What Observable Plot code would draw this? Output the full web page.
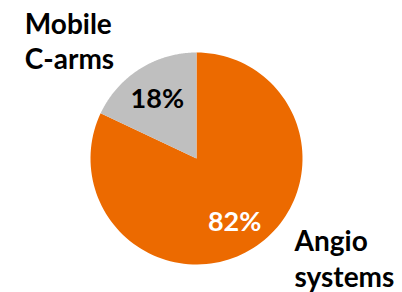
<!DOCTYPE html>
<html>
<head>
<meta charset="utf-8">
<script src="https://cdn.jsdelivr.net/npm/d3@7"></script>
<script src="https://cdn.jsdelivr.net/npm/@observablehq/plot@0.6"></script>
<style>
  html, body { margin: 0; padding: 0; background: #fff; }
  svg { display: block; }
</style>
</head>
<body>
<div id="chart"></div>
<script>
const categories = ["Angio systems", "Mobile C-arms"];
const values = [82, 18];
const valueLabels = ["82%", "18%"];
const categoryLabels = ["Angio\nsystems", "Mobile\nC-arms"];
const colors = ["#EC6A00", "#BFBFBF"];

// Pie layout: start at 12 o'clock, Angio clockwise, Mobile ends at 12 o'clock
const pie = d3.pie().sort(null).value(d => d)(values);
const slices = [];
pie.forEach((p, i) => {
  const n = 120;
  slices.push({cat: categories[i], x: 0, y: 0});
  for (let k = 0; k <= n; k++) {
    const a = p.startAngle + (p.endAngle - p.startAngle) * k / n;
    slices.push({cat: categories[i], x: Math.sin(a), y: Math.cos(a)});
  }
  slices.push({cat: categories[i], x: 0, y: 0});
});

// label positions (top of text) in unit-circle coordinates
const valuePos = [{x: 0.36, y: -0.50}, {x: -0.37, y: 0.66}];
const catPos = [{x: 0.925, y: -0.635}, {x: -1.62, y: 1.415}];

const valueData = values.map((v, i) => ({label: valueLabels[i], ...valuePos[i], fill: i === 0 ? "white" : "black"}));
const catData = categories.map((c, i) => ({label: categoryLabels[i], ...catPos[i]}));

const R = 106, cx = 196, cy = 158, W = 402, H = 292;

const chart = Plot.plot({
  width: W,
  height: H,
  margin: 0,
  x: {domain: [-cx / R, (W - cx) / R], axis: null},
  y: {domain: [-(H - cy) / R, cy / R], axis: null},
  color: {domain: categories, range: colors},
  style: {fontFamily: "Lato, 'Open Sans', sans-serif", background: "white"},
  marks: [
    Plot.line(slices, {x: "x", y: "y", z: "cat", fill: "cat", stroke: null, curve: "linear"}),
    Plot.text(valueData, {x: "x", y: "y", text: "label", fill: "fill", fontSize: 27, fontWeight: "bold", textAnchor: "middle", lineAnchor: "top"}),
    Plot.text(catData, {x: "x", y: "y", text: "label", fill: "black", fontSize: 28, fontWeight: "bold", textAnchor: "start", lineAnchor: "top", lineHeight: 1.27})
  ]
});
document.getElementById("chart").append(chart);
</script>
</body>
</html>
